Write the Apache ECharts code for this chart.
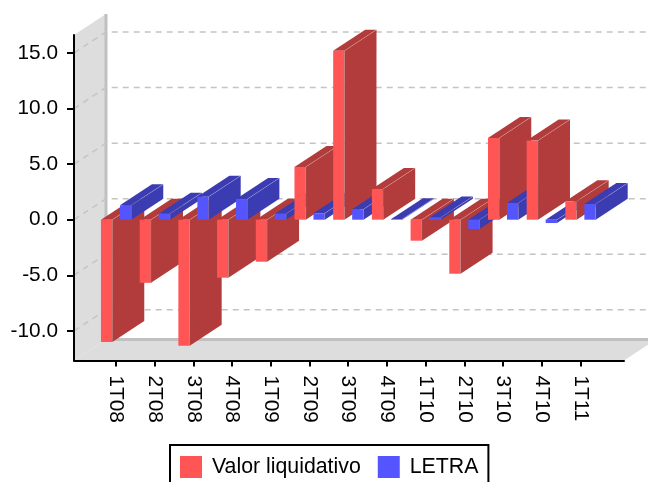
<!DOCTYPE html>
<html>
<head>
<meta charset="utf-8">
<style>
  html, body { margin: 0; padding: 0; background: #fff; }
  #chart { width: 648px; height: 482px; }
</style>
<script src="https://cdn.jsdelivr.net/npm/echarts@6/dist/echarts.min.js"></script>
</head>
<body>
<div id="chart"></div>
<script>
const periods = ["1T08", "2T08", "3T08", "4T08", "1T09", "2T09", "3T09", "4T09", "1T10", "2T10", "3T10", "4T10", "1T11"];
const valorLiquidativo = [-11.0, -5.68, -11.35, -5.22, -3.78, 4.75, 15.2, 2.77, -1.89, -4.86, 7.36, 7.12, 1.66];
const letra = [1.3, 0.54, 2.07, 1.86, 0.54, 0.58, 0.94, 0.05, 0.2, -0.84, 1.5, -0.3, 1.41];
const yTicks = [-10, -5, 0, 5, 10, 15];

// 3D look: depth of the plot box in pixels
const DX = 32;
const DY = 21;
const X_MIN = -1.085, X_MAX = 13.127;
const Y_MIN = -12.67, Y_MAX = 16.62;

// x position of each series' bar inside a category, in category units
const barSlots = [[-0.388, -0.096], [0.103, 0.395]];

const back = (p) => [p[0] + DX, p[1] - DY];

function barRenderer(slot, front, side) {
  return function (params, api) {
    const i = api.value(0);
    const v = api.value(1);
    const x0 = i + barSlots[slot][0];
    const x1 = i + barSlots[slot][1];
    const top = Math.max(0, v);
    const bottom = Math.min(0, v);
    const tl = api.coord([x0, top]);
    const tr = api.coord([x1, top]);
    const br = api.coord([x1, bottom]);
    const bl = api.coord([x0, bottom]);
    const z2 = i * 2 + slot;
    return {
      type: "group",
      silent: true,
      children: [
        { type: "polygon", z2, shape: { points: [tr, back(tr), back(br), br] }, style: { fill: side } },
        { type: "polygon", z2, shape: { points: [tl, back(tl), back(tr), tr] }, style: { fill: side } },
        { type: "polyline", z2, shape: { points: [tr, back(tr)] }, style: { fill: null, stroke: "rgba(255,255,255,0.22)", lineWidth: 1 } },
        { type: "polygon", z2, shape: { points: [tl, tr, br, bl] }, style: { fill: front } },
        { type: "polyline", z2, shape: { points: [tr, br] }, style: { fill: null, stroke: "rgba(140,140,140,0.4)", lineWidth: 1 } },
      ],
    };
  };
}

function renderWalls(params, api) {
  const a = api.coord([X_MIN, Y_MAX]);
  const b = api.coord([X_MIN, Y_MIN]);
  const c = api.coord([X_MAX, Y_MIN]);
  return {
    type: "group",
    silent: true,
    children: [
      { type: "polygon", shape: { points: [a, back(a), back(b), b] }, style: { fill: "#DDDDDD" } },
      { type: "polygon", shape: { points: [b, back(b), back(c), c] }, style: { fill: "#DDDDDD" } },
      { type: "polyline", shape: { points: [back(a), back(b), back(c)] }, style: { fill: null, stroke: "#C0C0C0", lineWidth: 3 } },
    ],
  };
}

function renderGridLine(params, api) {
  const p = api.coord([X_MIN, api.value(1)]);
  const q = api.coord([X_MAX, api.value(1)]);
  return {
    type: "polyline",
    silent: true,
    shape: { points: [p, back(p), back(q)] },
    style: { fill: null, stroke: "#C4C4C4", lineWidth: 1.5, lineDash: [6, 5] },
  };
}

const font = "Liberation Sans";
const chart = echarts.init(document.getElementById("chart"));
chart.setOption({
  animation: false,
  backgroundColor: "#fff",
  textStyle: { fontFamily: font },
  grid: { left: 74, top: 35, width: 550, height: 325.5 },
  legend: {
    data: ["Valor liquidativo", "LETRA"],
    left: 170,
    top: 445,
    orient: "horizontal",
    icon: "rect",
    itemWidth: 22,
    itemHeight: 22,
    itemGap: 17,
    padding: [11, 10, 11, 10],
    borderColor: "#000",
    borderWidth: 2,
    selectedMode: false,
    textStyle: { fontFamily: font, fontSize: 21.3, color: "#000", padding: [0, 0, 0, 5] },
  },
  xAxis: {
    type: "value",
    min: X_MIN,
    max: X_MAX,
    z: 10,
    splitLine: { show: false },
    axisLine: { show: true, onZero: false, lineStyle: { color: "#000", width: 2 } },
    axisTick: { show: true, length: 6, customValues: periods.map((p, i) => i), lineStyle: { color: "#000", width: 2 } },
    axisLabel: {
      customValues: periods.map((p, i) => i),
      rotate: -90,
      margin: 15,
      color: "#000",
      fontFamily: font,
      fontSize: 20.8,
      formatter: (v) => periods[v],
    },
  },
  yAxis: {
    type: "value",
    min: Y_MIN,
    max: Y_MAX,
    z: 10,
    splitLine: { show: false },
    axisLine: { show: true, onZero: false, lineStyle: { color: "#000", width: 2 } },
    axisTick: { show: true, length: 7, customValues: yTicks, lineStyle: { color: "#000", width: 2 } },
    axisLabel: {
      customValues: yTicks,
      margin: 16,
      padding: [2, 0, 0, 0],
      color: "#000",
      fontFamily: font,
      fontSize: 20.8,
      formatter: (v) => v.toFixed(1),
    },
  },
  series: [
    { type: "custom", name: "walls", z: 1, renderItem: renderWalls, data: [[0, 0]] },
    { type: "custom", name: "gridlines", z: 1, renderItem: renderGridLine, data: yTicks.map((v) => [0, v]) },
    {
      type: "custom",
      name: "Valor liquidativo",
      z: 2,
      itemStyle: { color: "#FF5555" },
      renderItem: barRenderer(0, "#FF5555", "#B23B3B"),
      data: valorLiquidativo.map((v, i) => [i, v]),
    },
    {
      type: "custom",
      name: "LETRA",
      z: 2,
      itemStyle: { color: "#5555FF" },
      renderItem: barRenderer(1, "#5555FF", "#3B3BB2"),
      data: letra.map((v, i) => [i, v]),
    },
  ],
});
</script>
</body>
</html>
